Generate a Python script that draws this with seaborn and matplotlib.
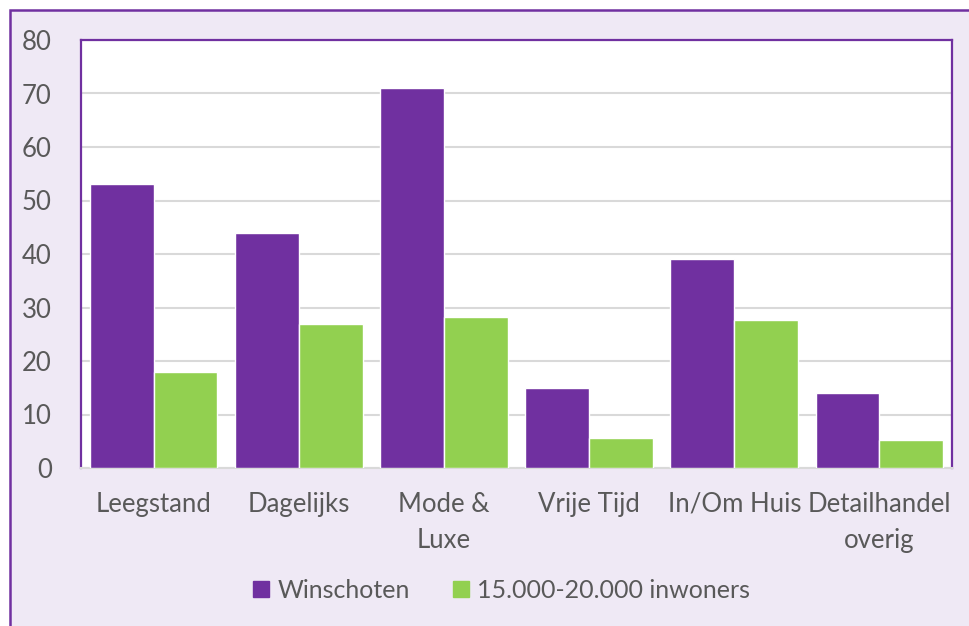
import pandas as pd
import matplotlib
matplotlib.use("Agg")
import matplotlib.pyplot as plt
import seaborn as sns
from matplotlib.patches import Rectangle
from matplotlib.lines import Line2D

# Gegevens
categorieen = ["Leegstand", "Dagelijks", "Mode &\nLuxe", "Vrije Tijd", "In/Om Huis", "Detailhandel\noverig"]
reeksen = ["Winschoten", "15.000-20.000 inwoners"]
winschoten = [53, 44, 71, 15, 39, 14]
inwoners = [18, 27, 28.2, 5.7, 27.7, 5.3]
y_ticks = [0, 10, 20, 30, 40, 50, 60, 70, 80]

paars = "#7030A0"
groen = "#92D050"
lavendel = "#EFE9F5"
tekstkleur = "#595959"

df = pd.DataFrame({
    "categorie": categorieen * 2,
    "reeks": [reeksen[0]] * len(categorieen) + [reeksen[1]] * len(categorieen),
    "waarde": winschoten + inwoners,
})

sns.set_theme(style="white")
plt.rcParams["font.family"] = ["Lato", "DejaVu Sans"]

fig = plt.figure(figsize=(9.7, 6.26), dpi=100, facecolor="white")

# kader van de grafiek (loopt door buiten beeld)
kader = Rectangle((10 / 970, -0.2), 1.2, 1.2 - 10 / 626, transform=fig.transFigure,
                  facecolor=lavendel, edgecolor=paars, linewidth=1.8, zorder=-10)
fig.patches.append(kader)

ax = fig.add_axes([81 / 970, 1 - 468 / 626, (952 - 81) / 970, (468 - 40) / 626])
ax.set_facecolor("white")

sns.barplot(data=df, x="categorie", y="waarde", hue="reeks", palette=[paars, groen],
            width=0.88, gap=0, saturation=1, ax=ax, legend=False, zorder=3)

ax.set_ylim(0, 80)
ax.set_yticks(y_ticks)
ax.set_xlim(-0.5, len(categorieen) - 0.5)
ax.yaxis.grid(True, color="#D9D9D9", linewidth=1.5, zorder=0)
ax.set_axisbelow(True)
ax.set_xlabel("")
ax.set_ylabel("")
ax.tick_params(axis="both", length=0, labelsize=18.5, labelcolor=tekstkleur)
ax.tick_params(axis="y", pad=21)
ax.tick_params(axis="x", pad=17)
for lbl in ax.get_xticklabels():
    lbl.set_linespacing(1.55)

for kant in ["left", "top", "right"]:
    ax.spines[kant].set_color(paars)
    ax.spines[kant].set_linewidth(1.6)
ax.spines["bottom"].set_color("#D9D9D9")
ax.spines["bottom"].set_linewidth(1.5)

handles = [Line2D([], [], marker="s", linestyle="none", markersize=11, color=c) for c in [paars, groen]]
fig.legend(handles, reeksen, loc="center", bbox_to_anchor=(500 / 970, 1 - 590 / 626), ncol=2,
           frameon=False, fontsize=18, labelcolor=tekstkleur, handletextpad=0.2,
           columnspacing=1.6, handlelength=0.9)

fig.savefig("out.png", dpi=100, facecolor=fig.get_facecolor())
